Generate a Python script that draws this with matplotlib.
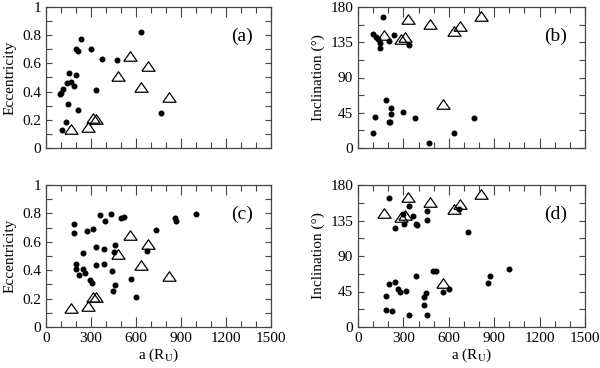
import matplotlib
matplotlib.use("Agg")
import matplotlib.pyplot as plt
from matplotlib.ticker import MultipleLocator, FuncFormatter

plt.rcParams['font.family'] = ['Liberation Serif', 'DejaVu Serif']
plt.rcParams['mathtext.fontset'] = 'stix'

# Known satellites (triangles): semimajor axis (R_U), eccentricity, inclination (deg)
tri_a_e = [167, 282, 316, 331, 478, 557, 636, 678, 818]
tri_e = [0.135, 0.15, 0.214, 0.209, 0.513, 0.65, 0.435, 0.582, 0.359]
tri_a_i = [172, 282, 313, 331, 474, 560, 633, 677, 816]
tri_i = [144.5, 139, 142, 165, 158, 55.6, 150, 156, 169]

# Panel (a): dots
a_a = [233, 198, 210, 298, 375, 471, 633, 156, 200, 167, 138, 187, 113, 96, 100,
       336, 147, 215, 131, 109, 769]
e_a = [0.774, 0.70, 0.69, 0.703, 0.634, 0.622, 0.822, 0.534, 0.518, 0.47, 0.458,
       0.44, 0.418, 0.382, 0.39, 0.413, 0.311, 0.271, 0.183, 0.131, 0.247]

# Panel (b): dots
a_b = [166, 99, 117, 132, 144, 144, 236, 205, 338,
       188, 115, 216, 216, 205, 214, 298, 377, 99, 470, 633, 766]
i_b = [166.7, 145.4, 142, 139, 134, 127.4, 144.5, 137, 131,
       61.2, 40.2, 50.9, 43.2, 33.3, 33.3, 45.4, 37.7, 19.2, 6.4, 19.7, 37.7]

# Panel (c): dots
a_c = [185, 185, 274, 316, 363, 392, 434, 501, 521, 732, 861, 868, 1001, 245, 334,
       387, 463, 456, 670, 203, 203, 247, 263, 220, 332, 385, 296, 305, 438, 565,
       461, 449, 603]
e_c = [0.726, 0.665, 0.677, 0.689, 0.789, 0.749, 0.796, 0.766, 0.773, 0.684, 0.766,
       0.749, 0.796, 0.524, 0.56, 0.552, 0.58, 0.531, 0.536, 0.447, 0.41, 0.41,
       0.377, 0.363, 0.436, 0.447, 0.33, 0.313, 0.391, 0.335, 0.297, 0.255, 0.213]

# Panel (d): dots
a_d = [203, 336, 459, 298, 364, 307, 386, 393, 457, 247, 666, 728,
       205, 247, 265, 278, 318, 188, 188, 223, 338, 386, 448, 435, 439, 459, 496,
       516, 563, 602, 860, 870, 997]
i_d = [163.2, 153.4, 147.5, 143.5, 141, 131, 130.5, 129, 136, 126, 149.6, 120,
       54, 56.5, 48.4, 43.8, 45.5, 38.7, 21.5, 20.2, 15.2, 64.5, 43.4, 38.3, 27.8,
       15.2, 70.8, 71.2, 44.6, 48, 56, 64.5, 73.4]

tri_marker = [(-1, -0.72), (1, -0.72), (0, 0.72), (-1, -0.72)]

fig = plt.figure(figsize=(6.0, 3.68), dpi=100)
W, H = 600, 368
boxes = {
    'a': (46, 7, 225, 141),
    'b': (358, 7, 227, 141),
    'c': (46, 185, 225, 142),
    'd': (358, 185, 227, 142),
}

def fmt_e(v, pos):
    s = '%.1f' % v
    if s.endswith('.0'):
        s = s[:-2]
    return s

def make_ax(key):
    x, y, w, h = boxes[key]
    return fig.add_axes([x / W, 1 - (y + h) / H, w / W, h / H])

panels = [
    ('a', a_a, e_a, tri_a_e, tri_e, 'ecc'),
    ('b', a_b, i_b, tri_a_i, tri_i, 'inc'),
    ('c', a_c, e_c, tri_a_e, tri_e, 'ecc'),
    ('d', a_d, i_d, tri_a_i, tri_i, 'inc'),
]

for key, ax_, ay_, tx, ty, kind in panels:
    ax = make_ax(key)
    ax.plot(ax_, ay_, linestyle='none', marker='o', ms=3.3, color='black', mec='black')
    ax.plot(tx, ty, linestyle='none', marker=tri_marker, ms=9.5, mfc='none',
            mec='black', mew=0.9)
    ax.set_xlim(0, 1500)
    ax.xaxis.set_major_locator(MultipleLocator(300))
    ax.xaxis.set_minor_locator(MultipleLocator(100))
    if kind == 'ecc':
        ax.set_ylim(0, 1)
        ax.yaxis.set_major_locator(MultipleLocator(0.2))
        ax.yaxis.set_minor_locator(MultipleLocator(0.1))
        ax.yaxis.set_major_formatter(FuncFormatter(fmt_e))
        ax.set_ylabel('Eccentricity', fontsize=11, labelpad=4)
    else:
        ax.set_ylim(0, 180)
        ax.yaxis.set_major_locator(MultipleLocator(45))
        ax.yaxis.set_minor_locator(MultipleLocator(22.5))
        ax.set_ylabel('Inclination (°)', fontsize=11, labelpad=4)
    ax.tick_params(which='both', direction='in', top=True, right=True,
                   labelsize=11, color='#444444', width=0.8)
    ax.tick_params(axis='x', which='major', length=7)
    ax.tick_params(axis='x', which='minor', length=4)
    ax.tick_params(axis='y', which='major', length=4.5)
    ax.tick_params(axis='y', which='minor', length=4)
    if key in ('a', 'b'):
        ax.tick_params(axis='x', labelbottom=False)
    else:
        ax.set_xlabel('a (R$_\\mathrm{U}$)', fontsize=11, labelpad=1)
    for sp in ax.spines.values():
        sp.set_color('#444444')
        sp.set_linewidth(0.9)
    ax.text(0.87, 0.79, '(%s)' % key, transform=ax.transAxes, fontsize=14,
            ha='center', va='center')

fig.savefig('out.png', dpi=100)
